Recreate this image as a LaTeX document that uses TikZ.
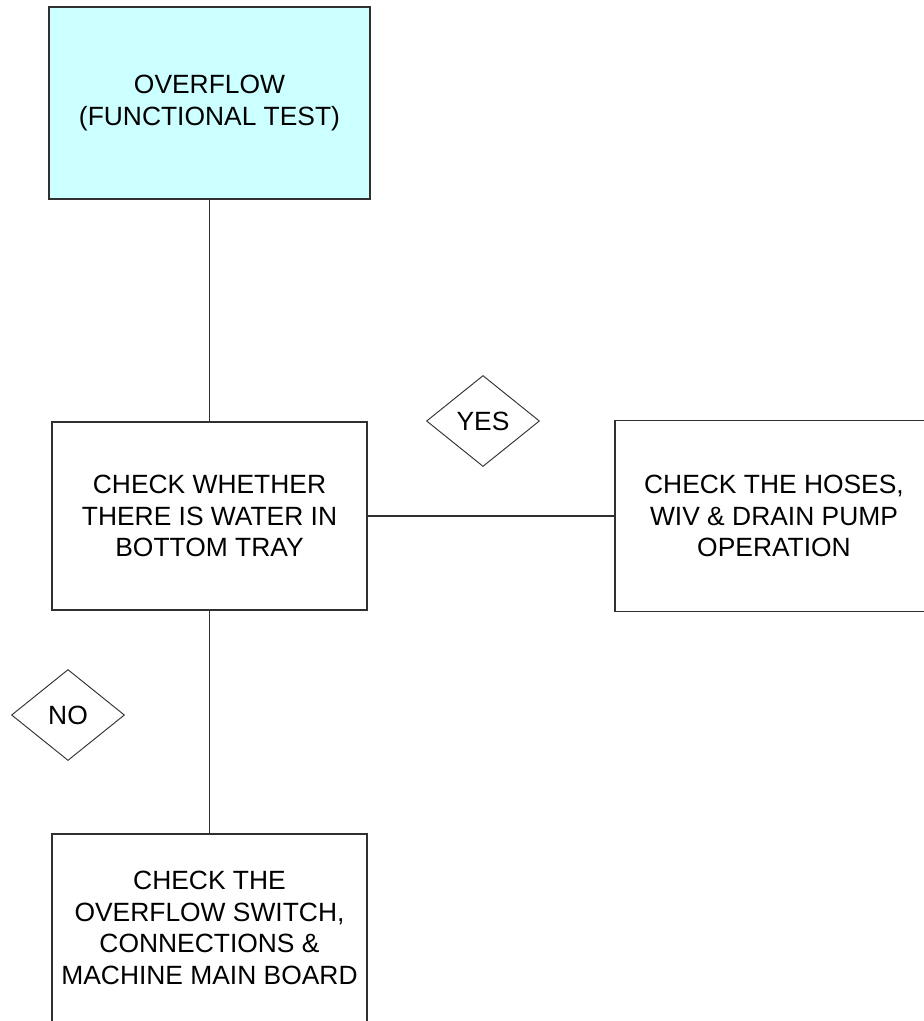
\documentclass[tikz,border=0pt]{standalone}
\usepackage{fontspec}
\setmainfont{Liberation Sans}
\usetikzlibrary{shapes.geometric}
\definecolor{boxcyan}{HTML}{CCFFFF}
\definecolor{edge}{HTML}{303030}
\tikzset{
  px/.style={x=0.75pt,y=-0.75pt},
  stepbox/.style={draw=edge, line width=0.8pt, rectangle, align=center, inner sep=0pt,
    font=\fontsize{19.8pt}{23.8pt}\selectfont},
  choice/.style={draw=edge, line width=0.7pt, diamond, inner sep=0pt,
    minimum width=84.75pt, minimum height=68.25pt,
    font=\fontsize{19.8pt}{23.8pt}\selectfont},
  link/.style={draw=edge, line width=0.8pt}
}
\begin{document}
\begin{tikzpicture}[px]
\useasboundingbox (0,0) rectangle (924,1021);
\clip (0,0) rectangle (924,1021);
\node[stepbox, fill=boxcyan, minimum width=240.75pt, minimum height=144pt] (b1) at (209.5,103) {OVERFLOW\\(FUNCTIONAL TEST)};
\node[stepbox, minimum width=236.25pt, minimum height=141pt] (b2) at (209.5,516) {CHECK WHETHER\\THERE IS WATER IN\\BOTTOM TRAY};
\node[stepbox, minimum width=238.5pt, minimum height=143.25pt] (b3) at (774,516) {CHECK THE HOSES,\\WIV \& DRAIN PUMP\\OPERATION};
\node[stepbox, minimum width=236.25pt, minimum height=141pt] (b4) at (209.5,928) {CHECK THE\\OVERFLOW SWITCH,\\CONNECTIONS \&\\MACHINE MAIN BOARD};
\node[choice] (yes) at (483,421) {YES};
\node[choice] (no) at (68,715) {NO};
\draw[link] (b1.south) -- (b2.north);
\draw[link] (b2.east) -- (b3.west);
\draw[link] (b2.south) -- (b4.north);
\end{tikzpicture}
\end{document}
